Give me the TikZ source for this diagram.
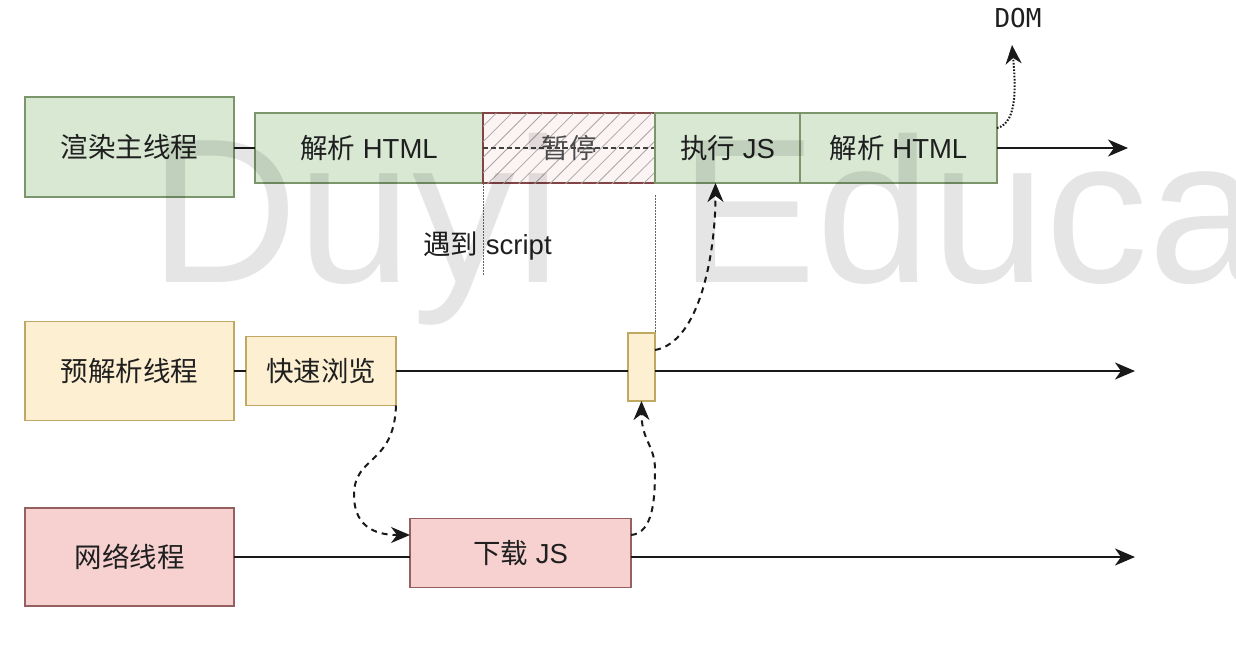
\documentclass[tikz,border=0pt]{standalone}
\usepackage{fontspec}
\setmainfont{Liberation Sans}
\newfontfamily\cjk{Noto Sans CJK SC}
\newfontfamily\monof{DejaVu Sans Mono}
\usetikzlibrary{arrows.meta,patterns.meta}
\definecolor{gF}{RGB}{216,232,211}
\definecolor{gD}{RGB}{122,150,106}
\definecolor{yF}{RGB}{253,240,210}
\definecolor{yD}{RGB}{192,168,98}
\definecolor{rF}{RGB}{246,209,208}
\definecolor{rD}{RGB}{150,96,96}
\definecolor{pD}{RGB}{130,68,68}
\definecolor{pF}{RGB}{252,243,243}
\begin{document}
\begin{tikzpicture}[x=1pt,y=-1pt,
  box/.style={draw, line width=1.5pt, inner sep=0pt, outer sep=0pt,
    font=\fontsize{27.5}{33}\selectfont, text=black!88},
  gbox/.style={box, fill=gF, draw=gD},
  ybox/.style={box, fill=yF, draw=yD},
  rbox/.style={box, fill=rF, draw=rD},
  thread/.style={line width=2pt, black!90},
  tharrow/.style={thread, -{Stealth[length=20pt,width=17pt,inset=6pt]}},
  dasharrow/.style={line width=2pt, black!90, dash pattern=on 6pt off 5pt,
    -{Stealth[length=19pt,width=16pt,inset=6pt]}},
  dotarrow/.style={line width=2pt, black!90, dash pattern=on 1.6pt off 1.6pt,
    -{Stealth[length=19pt,width=16pt,inset=6pt]}},
  vdot/.style={line width=1pt, dash pattern=on 1.5pt off 1.5pt, black!60},
  lbl/.style={inner sep=0pt, font=\fontsize{27.5}{33}\selectfont, text=black!88},
  wm/.style={inner sep=0pt, anchor=base west, text=black, text opacity=0.1,
    font=\fontsize{206}{206}\selectfont}
]
\useasboundingbox (0,0) rectangle (1236,656);
\fill[white] (0,0) rectangle (1236,656);

% ---------- free ends of the thread arrows ----------
\coordinate (mainend) at (1128,148);
\coordinate (preend) at (1135,371);
\coordinate (netend) at (1135,557);

% main thread boxes
\node[gbox, minimum width=209pt, minimum height=100pt] (main) at (129.5,147) {{\cjk 渲染主线程}};
\node[gbox, minimum width=228pt, minimum height=70pt] (p1) at (369,148) {{\cjk 解析} HTML};
\node[box, draw=pD, line width=2pt, fill=pF,
  postaction={pattern={Lines[angle=45,distance=11pt,line width=0.8pt]}, pattern color=black!35},
  minimum width=172pt, minimum height=70pt, text=black!70] (pause) at (569,148) {{\cjk 暂停}};
\draw[line width=1.3pt, black!75, dash pattern=on 5pt off 3pt] (pause.west) -- (pause.east);
\node[gbox, minimum width=145pt, minimum height=70pt] (exec) at (727.5,148) {{\cjk 执行} JS};
\node[gbox, minimum width=197pt, minimum height=70pt] (p2) at (898.5,148) {{\cjk 解析} HTML};
\draw[thread] (main.east |- p1.west) -- (p1.west);
\draw[tharrow] (p2.east) -- (mainend);

% DOM
\node[inner sep=0pt, anchor=south, font=\monof\fontsize{26}{30}\selectfont, text=black!88] (dom) at (1018,28) {DOM};
\draw[dotarrow] ([yshift=20pt]p2.east) .. controls +(22,-5) and +(3,35) .. ([xshift=-6pt,yshift=-17pt]dom.south);

% pre-parse thread
\node[ybox, minimum width=209pt, minimum height=99pt] (pre) at (129.5,371) {{\cjk 预解析线程}};
\node[ybox, minimum width=150pt, minimum height=69pt] (fast) at (321,371) {{\cjk 快速浏览}};
\node[ybox, minimum width=27pt, minimum height=68pt] (small) at (641.5,367) {};
\draw[thread] (pre.east) -- (fast.west);
\draw[thread] (fast.east) -- (fast.east -| small.west);
\draw[tharrow] (small.east |- preend) -- (preend);

% network thread
\node[rbox, minimum width=209pt, minimum height=98pt] (net) at (129.5,557) {{\cjk 网络线程}};
\node[rbox, minimum width=221pt, minimum height=69pt] (dl) at (520.5,553) {{\cjk 下载} JS};
\draw[thread] (net.east) -- (net.east -| dl.west);
\draw[tharrow] (dl.east |- netend) -- (netend);

% dotted guide lines
\draw[vdot] (pause.south west) -- +(0,92);
\draw[vdot] ([yshift=-12pt]pause.south east) -- (small.north east);
\node[lbl] (meet) at (487.5,246) {{\cjk 遇到} script};

% dashed connectors
\draw[dasharrow] (fast.south east) .. controls +(-2,60) and +(0,-40) .. (354,495)
  .. controls +(0,35) and +(-30,0) .. ([yshift=18pt]dl.west);
\draw[dasharrow] ([yshift=18pt]dl.east) .. controls +(22,-2) and +(0,30) .. (655,470)
  .. controls +(0,-25) and +(0,40) .. (small.south);
\draw[dasharrow] ([yshift=17pt]small.east) .. controls +(45,-8) and +(0,70) .. ([xshift=-12pt]exec.south);

% watermark
\begin{scope}
\clip (0,0) rectangle (1236,656);
\node[wm] (wm1) at (149,282) {Duyi};
\node[wm] (wm2) at (679,282) {Educa};
\end{scope}
\end{tikzpicture}
\end{document}
